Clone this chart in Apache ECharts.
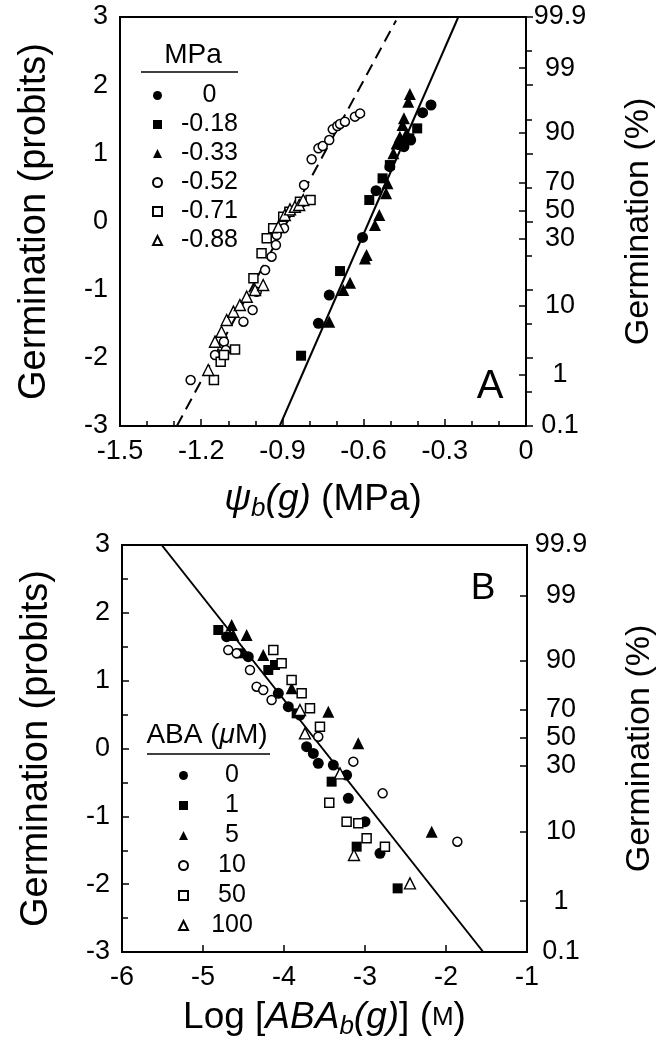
<!DOCTYPE html>
<html><head><meta charset="utf-8">
<script src="https://cdn.jsdelivr.net/npm/echarts@6/dist/echarts.min.js"></script>
<style>html,body{margin:0;padding:0;background:#fff}#c{width:667px;height:1046px}</style>
</head><body><div id="c"></div>
<script>
// ---------- Panel A data: water potential (MPa) ----------
const psiLevels = ['0', '-0.18', '-0.33', '-0.52', '-0.71', '-0.88'];
const psi0 = [[-0.767,-1.494],[-0.727,-1.079],[-0.604,-0.233],[-0.554,0.452],[-0.503,0.804],[-0.451,1.097],[-0.426,1.195],[-0.382,1.596],[-0.351,1.709]];
const psi018 = [[-0.831,-1.969],[-0.687,-0.727],[-0.579,0.315],[-0.530,0.633],[-0.503,0.828],[-0.459,1.122],[-0.431,1.220],[-0.402,1.366]];
const psi033 = [[-0.727,-1.470],[-0.675,-1.005],[-0.650,-0.898],[-0.595,-0.541],[-0.589,-0.492],[-0.558,-0.052],[-0.542,0.095],[-0.517,0.413],[-0.512,0.560],[-0.490,1.000],[-0.478,1.146],[-0.466,1.244],[-0.456,1.415],[-0.451,1.513],[-0.441,1.293],[-0.435,1.758],[-0.429,1.870]];
const psi052 = [[-1.239,-2.326],[-1.149,-1.959],[-1.116,-1.763],[-1.109,-1.886],[-1.044,-1.470],[-1.010,-1.299],[-0.995,-1.030],[-0.964,-0.712],[-0.940,-0.516],[-0.924,-0.345],[-0.921,-0.198],[-0.894,-0.100],[-0.820,0.535],[-0.792,0.912],[-0.767,1.073],[-0.751,1.107],[-0.727,1.195],[-0.714,1.352],[-0.697,1.401],[-0.687,1.430],[-0.669,1.464],[-0.632,1.538],[-0.613,1.586]];
const psi071 = [[-1.153,-2.326],[-1.128,-2.057],[-1.116,-1.959],[-1.075,-1.876],[-1.007,-0.834],[-0.977,-0.467],[-0.958,-0.247],[-0.934,-0.100],[-0.897,0.071],[-0.874,0.144],[-0.835,0.291],[-0.796,0.315]];
const psi088 = [[-1.174,-2.179],[-1.149,-1.763],[-1.125,-1.617],[-1.106,-1.445],[-1.081,-1.323],[-1.057,-1.225],[-1.032,-1.103],[-1.001,-1.005],[-0.971,-0.932],[-0.915,-0.079],[-0.891,0.095],[-0.872,0.178],[-0.854,0.217],[-0.838,0.242],[-0.823,0.315]];
const psiFitSolid = [[-0.91,-3],[-0.25,3]];
const psiFitDashed = [[-1.29,-3],[-0.48,2.95]];

// ---------- Panel B data: log ABA ----------
const abaLevels = ['0', '1', '5', '10', '50', '100'];
const aba0 = [[-4.708,1.648],[-4.441,1.354],[-4.070,0.813],[-3.947,0.616],[-3.803,0.494],[-3.721,0.027],[-3.638,-0.072],[-3.577,-0.219],[-3.391,-0.244],[-3.227,-0.391],[-3.206,-0.735],[-3.000,-1.079],[-2.815,-1.546]];
const aba1 = [[-4.811,1.747],[-4.544,1.403],[-4.194,1.157],[-4.111,1.231],[-3.844,0.518],[-3.412,-0.489],[-3.103,-1.447],[-2.597,-2.062]];
const aba5 = [[-4.646,1.820],[-4.626,1.673],[-4.461,1.673],[-4.256,1.378],[-3.906,0.887],[-3.453,0.543],[-3.083,0.076],[-2.177,-1.226]];
const aba10 = [[-4.688,1.452],[-4.585,1.403],[-4.420,1.157],[-4.338,0.911],[-4.256,0.862],[-4.153,0.715],[-3.577,0.174],[-3.144,-0.194],[-2.782,-0.661],[-1.860,-1.374]];
const aba50 = [[-4.132,1.452],[-4.029,1.255],[-3.906,1.010],[-3.782,0.813],[-3.679,0.592],[-3.556,0.322],[-3.441,-0.799],[-3.227,-1.079],[-3.083,-1.103],[-2.980,-1.324],[-2.754,-1.447]];
const aba100 = [[-3.803,0.567],[-3.741,0.223],[-3.309,-0.366],[-3.136,-1.570],[-2.445,-1.988]];
const abaFit = [[-5.51,3],[-1.54,-3]];

// ---------- Right axis: germination percentage, at the probit positions ----------
const pctLabels = ['99.9', '99', '90', '70', '50', '30', '10', '1', '0.1'];
const pctPositions = [3, 2.25, 1.30, 0.57, 0.16, -0.25, -1.23, -2.25, -3];

// ---------- styling ----------
const FONT = "'Liberation Sans', Arial, Helvetica, sans-serif";
const markStyles = [
  { symbol: 'circle', size: 11, fill: '#000', bw: 0 },
  { symbol: 'rect', size: 10, fill: '#000', bw: 0 },
  { symbol: 'triangle', size: 12, fill: '#000', bw: 0 },
  { symbol: 'circle', size: 9, fill: '#fff', bw: 1.5 },
  { symbol: 'rect', size: 9, fill: '#fff', bw: 1.5 },
  { symbol: 'triangle', size: 11, fill: '#fff', bw: 1.4 }
];
const psiData = [psi0, psi018, psi033, psi052, psi071, psi088];
const abaData = [aba0, aba1, aba5, aba10, aba50, aba100];

const chart = echarts.init(document.getElementById('c'), null, { renderer: 'canvas', width: 667, height: 1046 });

function scatter(name, data, st, xi, yi) {
  return {
    type: 'scatter', name, data, xAxisIndex: xi, yAxisIndex: yi,
    symbol: st.symbol, symbolSize: st.size, z: 3,
    itemStyle: { color: st.fill, borderColor: '#000', borderWidth: st.bw, opacity: 1 },
    emphasis: { disabled: true }, animation: false
  };
}
function fitLine(data, xi, yi, dashed) {
  return {
    type: 'line', data, xAxisIndex: xi, yAxisIndex: yi, showSymbol: false, symbol: 'none',
    lineStyle: { color: '#000', width: 2, type: dashed ? [12, 7] : 'solid' },
    z: 2, animation: false, emphasis: { disabled: true }, silent: true
  };
}

const pctAxis = (gi) => ({
  type: 'value', gridIndex: gi, position: 'right', min: -3, max: 3,
  name: 'Germination (%)', nameLocation: 'middle', nameGap: 96, nameRotate: 90,
  nameTextStyle: { fontSize: 34, fontFamily: FONT, color: '#000' },
  axisLine: { show: true, lineStyle: { color: '#000', width: 2 } },
  axisTick: { show: true, inside: true, length: 7, customValues: pctPositions, lineStyle: { color: '#000', width: 1.5 } },
  axisLabel: { show: true, customValues: pctPositions, margin: 34, align: 'center', fontSize: 27, fontFamily: FONT, color: '#000',
    formatter: (v) => { const i = pctPositions.findIndex(p => Math.abs(p - v) < 1e-6); return i >= 0 ? pctLabels[i] : ''; } },
  splitLine: { show: false }
});
const probitAxis = (gi) => ({
  type: 'value', gridIndex: gi, position: 'left', min: -3, max: 3, interval: 1,
  name: 'Germination (probits)', nameLocation: 'middle', nameGap: 66, nameRotate: 90,
  nameTextStyle: { fontSize: 38, fontFamily: FONT, color: '#000' },
  axisLine: { show: true, lineStyle: { color: '#000', width: 2 } },
  axisTick: { show: true, inside: true, length: 7, lineStyle: { color: '#000', width: 1.5 } },
  minorTick: { show: true, splitNumber: 2, length: 6, lineStyle: { color: '#000', width: 1.5 } },
  axisLabel: { fontSize: 27, fontFamily: FONT, color: '#000', margin: 12 },
  splitLine: { show: false }, minorSplitLine: { show: false }
});

const series = [];
psiLevels.forEach((l, i) => series.push(scatter(l, psiData[i], markStyles[i], 0, 0)));
series.push(fitLine(psiFitSolid, 0, 0, false));
series.push(fitLine(psiFitDashed, 0, 0, true));
abaLevels.forEach((l, i) => series.push(scatter('ABA ' + l, abaData[i], markStyles[i], 1, 2)));
series.push(fitLine(abaFit, 1, 2, false));

const legendBase = {
  orient: 'vertical', itemWidth: 9, itemHeight: 9, padding: 0,
  selectedMode: false, inactiveColor: '#000'
};

const option = {
  backgroundColor: '#fff',
  animation: false,
  grid: [
    { left: 120, top: 17, width: 406, height: 409, show: true, borderColor: '#000', borderWidth: 2, backgroundColor: 'transparent' },
    { left: 122, top: 545, width: 405, height: 407, show: true, borderColor: '#000', borderWidth: 2, backgroundColor: 'transparent' }
  ],
  xAxis: [
    { type: 'value', gridIndex: 0, min: -1.5, max: 0, interval: 0.3,
      name: '{i|ψ}{s|b}{i|(g)} (MPa)', nameLocation: 'middle', nameGap: 52,
      nameTextStyle: { fontSize: 37, fontFamily: FONT, color: '#000',
        rich: { i: { fontSize: 37, fontStyle: 'italic', fontFamily: FONT, color: '#000' },
                s: { fontSize: 26, fontStyle: 'italic', fontFamily: FONT, color: '#000', padding: [18, 0, 0, 0] } } },
      axisLine: { show: true, onZero: false, lineStyle: { color: '#000', width: 2 } },
      axisTick: { show: true, inside: true, length: 7, lineStyle: { color: '#000', width: 1.5 } },
      minorTick: { show: true, splitNumber: 3, length: 5, lineStyle: { color: '#000', width: 1.5 } },
      axisLabel: { fontSize: 27, fontFamily: FONT, color: '#000', margin: 12, formatter: v => (Math.abs(v) < 1e-9 ? '0' : String(+v.toFixed(1))) },
      splitLine: { show: false }, minorSplitLine: { show: false } },
    { type: 'value', gridIndex: 1, min: -6, max: -1, interval: 1,
      name: 'Log [{i|ABA}{s|b}{i|(g)}] ({m|M})', nameLocation: 'middle', nameGap: 44,
      nameTextStyle: { fontSize: 37, fontFamily: FONT, color: '#000',
        rich: { i: { fontSize: 37, fontStyle: 'italic', fontFamily: FONT, color: '#000' },
                s: { fontSize: 26, fontStyle: 'italic', fontFamily: FONT, color: '#000', padding: [18, 0, 0, 0] },
                m: { fontSize: 26, fontFamily: FONT, color: '#000' } } },
      axisLine: { show: true, onZero: false, lineStyle: { color: '#000', width: 2 } },
      axisTick: { show: true, inside: true, length: 7, lineStyle: { color: '#000', width: 1.5 } },
      axisLabel: { fontSize: 27, fontFamily: FONT, color: '#000', margin: 12 },
      splitLine: { show: false } }
  ],
  yAxis: [probitAxis(0), pctAxis(0), probitAxis(1), pctAxis(1)],
  legend: [
    Object.assign({}, legendBase, {
      data: psiLevels, left: 152, top: 83, itemGap: 4,
      formatter: n => '{c|' + n + '}',
      textStyle: { rich: { c: { width: 85, align: 'center', fontSize: 25, fontFamily: FONT, color: '#000' } } }
    }),
    Object.assign({}, legendBase, {
      data: abaLevels.map(l => 'ABA ' + l), left: 178, top: 763, itemGap: 5,
      formatter: n => '{c|' + n.replace('ABA ', '') + '}',
      textStyle: { rich: { c: { width: 78, align: 'center', fontSize: 25, fontFamily: FONT, color: '#000' } } }
    })
  ],
  graphic: [
    { type: 'text', x: 193, y: 55, style: { text: 'MPa', fontSize: 28, fontFamily: FONT, fill: '#000', align: 'center', verticalAlign: 'middle' } },
    { type: 'line', shape: { x1: 141, y1: 72, x2: 238, y2: 72 }, style: { stroke: '#000', lineWidth: 1.5 } },
    { type: 'text', x: 207, y: 735, style: { text: 'ABA ({i|μ}M)', fontSize: 28, fontFamily: FONT, fill: '#000', align: 'center', verticalAlign: 'middle',
        rich: { i: { fontSize: 28, fontStyle: 'italic', fontFamily: FONT, fill: '#000' } } } },
    { type: 'line', shape: { x1: 147, y1: 754, x2: 270, y2: 754 }, style: { stroke: '#000', lineWidth: 1.5 } },
    { type: 'text', x: 490, y: 387, style: { text: 'A', fontSize: 40, fontFamily: FONT, fill: '#000', align: 'center', verticalAlign: 'middle' } },
    { type: 'text', x: 483, y: 589, style: { text: 'B', fontSize: 37, fontFamily: FONT, fill: '#000', align: 'center', verticalAlign: 'middle' } }
  ],
  series
};
chart.setOption(option);
</script>
</body></html>
